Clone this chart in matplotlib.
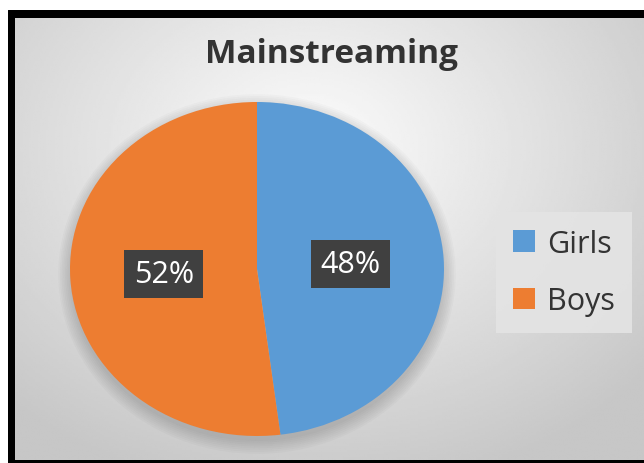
import numpy as np
import matplotlib
matplotlib.use("Agg")
import matplotlib.pyplot as plt
from matplotlib.patches import Patch, Ellipse

labels = ["Girls", "Boys"]
shares = [48, 52]
colors = ["#5B9BD5", "#ED7D31"]
title = "Mainstreaming"

W, H = 644, 464
fig = plt.figure(figsize=(W / 100, H / 100), dpi=100)
fig.patch.set_facecolor("white")

def box(x0, y0, x1, y1):
    # pixel box (top-left origin) -> figure axes rect
    return [x0 / W, 1 - y1 / H, (x1 - x0) / W, (y1 - y0) / H]

# black frame
frame = fig.add_axes(box(8, 11, 660, 466))
frame.axis("off")
frame.add_patch(plt.Rectangle((0, 0), 1, 1, color="black", transform=frame.transAxes))

# gradient background
bg = fig.add_axes(box(15, 19, 660, 461))
xx, yy = np.meshgrid(np.linspace(15, 660, 300), np.linspace(19, 461, 200))
d = np.sqrt(((xx - 310) / 420) ** 2 + ((yy - 150) / 330) ** 2)
shade = np.clip(0.99 - 0.2 * d, 0.78, 1.0)
bg.imshow(shade, cmap="gray", vmin=0, vmax=1, aspect="auto", interpolation="bilinear")
bg.axis("off")

# soft shadow under pie
sh = fig.add_axes(box(70, 103, 444, 437))
sh.set_xlim(-1, 1)
sh.set_ylim(-1, 1)
sh.axis("off")
for i in range(8):
    sh.add_patch(Ellipse((0.0, -0.03), 2 + 0.018 * i, 2 + 0.022 * i,
                         color="black", alpha=0.02, lw=0, clip_on=False))

ax = fig.add_axes(box(70, 103, 444, 437))
wedges, texts, autotexts = ax.pie(shares, colors=colors, startangle=90, counterclock=False,
                                  autopct="%1.0f%%", pctdistance=0.5,
                                  textprops=dict(color="white", fontsize=22, family="Open Sans"))
for t in autotexts:
    t.set_bbox(dict(boxstyle="square,pad=0.3", facecolor="#404040", edgecolor="none"))
ax.set_aspect("auto")
ax.set_xlim(-1, 1)
ax.set_ylim(-1, 1)

fig.text(332 / W, 1 - 63 / H, title, ha="center", va="baseline", fontsize=24,
         fontweight="bold", family="Open Sans", color="#333333")

handles = [Patch(facecolor=c, edgecolor="none") for c in colors]
leg = fig.legend(handles, labels, loc="upper left", bbox_to_anchor=(496 / W, 1 - 213 / H),
                 borderaxespad=0, frameon=True, fancybox=False, handlelength=0.72,
                 handleheight=0.7, handletextpad=0.4, labelspacing=0.9,
                 borderpad=0.55, prop=dict(family="Open Sans", size=22))
leg.get_frame().set_facecolor("#E4E4E4")
leg.get_frame().set_edgecolor("none")
leg.get_frame().set_alpha(0.9)
for t in leg.get_texts():
    t.set_color("#333333")

fig.savefig("out.png", dpi=100)
